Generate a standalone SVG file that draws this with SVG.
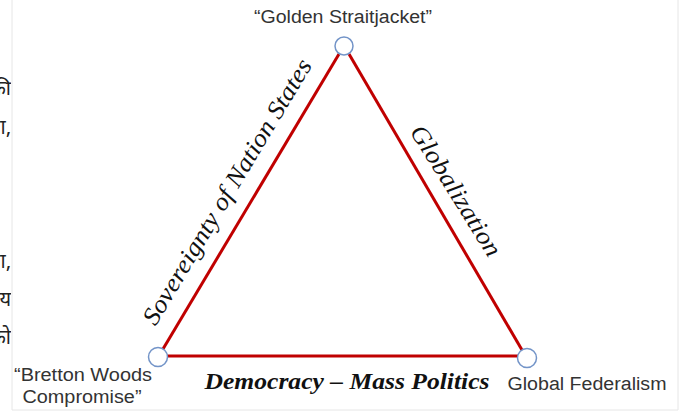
<svg xmlns="http://www.w3.org/2000/svg" width="696" height="413" viewBox="0 0 696 413">
<style>
.edge{stroke:#C00000;stroke-width:3;fill:none}
.node{fill:#fff;stroke:#7394C8;stroke-width:1.5}
.lbl{font-family:"Liberation Sans",Arial,sans-serif;font-size:18px;fill:#333}
.axis{font-family:"Liberation Serif","Times New Roman",serif;font-style:italic;fill:#111}
.hi{font-family:"Noto Sans Devanagari","Noto Serif Devanagari","Noto Sans","Liberation Serif",serif;font-size:20px;fill:#222}
</style>
<defs>
<clipPath id="lc"><rect x="0" y="0" width="11" height="413"/></clipPath>
</defs>
<rect x="0" y="0" width="696" height="413" fill="#fff"/>
<path d="M12 0V410H678V0" fill="none" stroke="#e6e6e6" stroke-width="1"/>
<g clip-path="url(#lc)">
<text class="hi" x="11" y="95" text-anchor="end">की</text>
<text class="hi" x="11" y="134" text-anchor="end">ता,</text>
<text class="hi" x="11" y="268" text-anchor="end">ता,</text>
<text class="hi" x="11" y="306" text-anchor="end">य</text>
<text class="hi" x="11" y="344" text-anchor="end">को</text>
</g>
<g id="connectors">
<line class="edge" x1="339" y1="54" x2="163" y2="349"/>
<line class="edge" x1="349" y1="54" x2="522" y2="350"/>
<line class="edge" x1="167" y1="356" x2="518" y2="356"/>
</g>
<g id="edge-labels">
<text class="axis" font-size="25" transform="translate(234,196) rotate(-59)" text-anchor="middle" textLength="305" lengthAdjust="spacingAndGlyphs">Sovereignty of Nation States</text>
<text class="axis" font-size="25" transform="translate(449,195) rotate(58)" text-anchor="middle" textLength="150" lengthAdjust="spacingAndGlyphs">Globalization</text>
<text class="axis" font-size="23" font-weight="bold" x="347" y="389" text-anchor="middle" textLength="285" lengthAdjust="spacingAndGlyphs">Democracy – Mass Politics</text>
</g>
<g id="golden">
<circle class="node" cx="344" cy="46" r="9"/>
<text class="lbl" x="343" y="23" text-anchor="middle" textLength="178" lengthAdjust="spacingAndGlyphs">“Golden Straitjacket”</text>
</g>
<g id="bretton">
<circle class="node" cx="158" cy="357" r="9.5"/>
<text class="lbl" x="83" y="381" text-anchor="middle" textLength="138" lengthAdjust="spacingAndGlyphs">“Bretton Woods</text>
<text class="lbl" x="82" y="403" text-anchor="middle" textLength="119" lengthAdjust="spacingAndGlyphs">Compromise”</text>
</g>
<g id="federalism">
<circle class="node" cx="527" cy="358" r="9.5"/>
<text class="lbl" x="587" y="390" text-anchor="middle" textLength="159" lengthAdjust="spacingAndGlyphs">Global Federalism</text>
</g>
</svg>
